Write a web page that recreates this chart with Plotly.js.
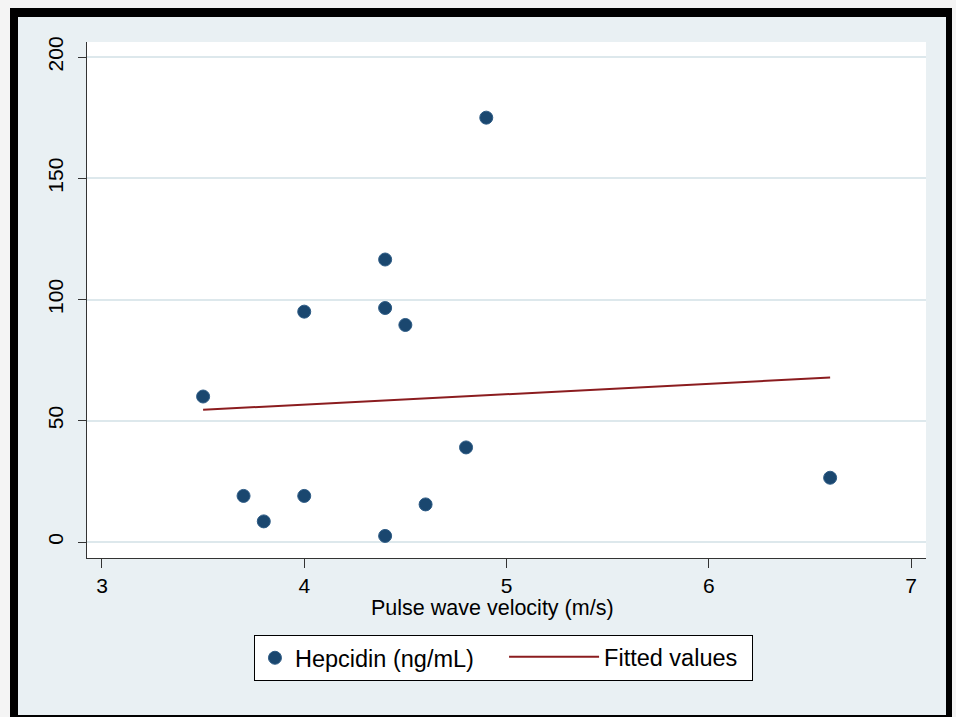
<!DOCTYPE html>
<html>
<head>
<meta charset="utf-8">
<script src="https://cdn.plot.ly/plotly-3.0.1.min.js"></script>
<style>
  html, body { margin: 0; padding: 0; background: #f4f4f4; width: 956px; height: 717px; overflow: hidden; }
  #frame { position: absolute; left: 10px; top: 8px; width: 928px; height: 698px;
           border-style: solid; border-color: #000; border-width: 9px 6px 2px 8px; background: #e9f0f3; }
  #chart { width: 928px; height: 698px; }
</style>
</head>
<body>
<div id="frame"><div id="chart"></div></div>
<script>
// Scatter data: pulse wave velocity (m/s) vs hepcidin (ng/mL)
const pwv = [3.5, 3.7, 3.8, 4.0, 4.0, 4.4, 4.4, 4.4, 4.5, 4.6, 4.8, 4.9, 6.6];
const hepcidin = [60, 19, 8.5, 95, 19, 116.5, 96.5, 2.5, 89.5, 15.5, 39, 175, 26.5];
// Fitted values (linear fit) read at the ends of the drawn line
const fitX = [3.5, 6.6];
const fitY = [54.5, 67.8];
const xTicks = [3, 4, 5, 6, 7];
const yTicks = [0, 50, 100, 150, 200];
const seriesNames = ["Hepcidin (ng/mL)", "Fitted values"];
const xTitle = "Pulse wave velocity (m/s)";

const font = "Liberation Sans, Arial, sans-serif";

const traces = [
  {
    x: pwv, y: hepcidin, type: "scatter", mode: "markers", name: seriesNames[0],
    marker: { color: "#1a476f", size: 13, line: { color: "#2d5b85", width: 1 } },
    legend: "legend"
  },
  {
    x: fitX, y: fitY, type: "scatter", mode: "lines", name: seriesNames[1],
    line: { color: "#8b1c1f", width: 2 },
    legend: "legend2"
  }
];

const layout = {
  width: 928, height: 698,
  paper_bgcolor: "#e9f0f3",
  plot_bgcolor: "#ffffff",
  margin: { l: 69, r: 20, t: 25, b: 157 },
  font: { family: font, size: 21, color: "#000" },
  showlegend: true,
  xaxis: {
    range: [2.926, 7.074],
    tickvals: xTicks,
    ticktext: xTicks.map(String),
    showgrid: false, zeroline: false,
    showline: true, linecolor: "#333", linewidth: 1,
    ticks: "outside", ticklen: 9, tickcolor: "#333",
    tickfont: { size: 21 }
  },
  yaxis: {
    range: [-6.6, 206.2],
    tickvals: yTicks,
    ticktext: yTicks.map(String),
    tickangle: -90,
    showgrid: true, gridcolor: "#dde8ec", gridwidth: 2,
    zeroline: false,
    showline: true, linecolor: "#333", linewidth: 1,
    ticks: "outside", ticklen: 8, tickcolor: "#333",
    tickfont: { size: 21 },
    ticklabelstandoff: 7
  },
  annotations: [{
    text: xTitle, xref: "paper", yref: "paper",
    x: 0.483, y: -0.097, xanchor: "center", yanchor: "middle",
    showarrow: false, font: { size: 21.5 }
  }],
  legend: {
    orientation: "h",
    x: 0.1990, xanchor: "left",
    y: -0.1492, yanchor: "top",
    bgcolor: "#ffffff", bordercolor: "#000", borderwidth: 1,
    font: { size: 23.5 },
    itemwidth: 30,
    entrywidth: 452
  },
  legend2: {
    orientation: "h",
    x: 0.4971, xanchor: "left",
    y: -0.1492, yanchor: "top",
    bgcolor: "rgba(0,0,0,0)", borderwidth: 0,
    font: { size: 23.5 },
    itemwidth: 90
  }
};

Plotly.newPlot("chart", traces, layout, { displayModeBar: false, staticPlot: true });
</script>
</body>
</html>
